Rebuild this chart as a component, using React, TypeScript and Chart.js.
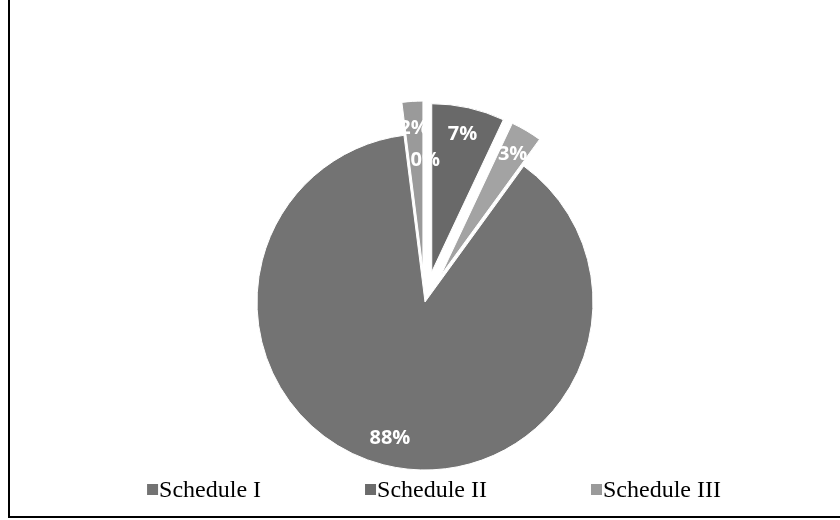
import React, { useEffect, useRef } from "react";
import { Chart, registerables } from "chart.js";

Chart.register(...registerables);

// Data (Excel pie, first slice rotated to 36°)
const labels = ["Schedule I", "Schedule II", "Schedule III", "Schedule IV", "Schedule V"];
const values = [88, 0, 2, 7, 3];
const sliceColors = ["#737373", "#6b6b6b", "#9a9a9a", "#696969", "#a3a3a3"];
const legendShown = 3;

// Styling
const explode = [0, 33, 33, 31, 31];
const labelShift: [number, number][] = [[0, 0], [22, 31], [0, 0], [0, 0], [0, 0]];

const explodePlugin = {
  id: "explodeSlices",
  afterDatasetUpdate(chart: any, args: any) {
    const meta = chart.getDatasetMeta(args.index);
    meta.data.forEach((arc: any, i: number) => {
      if (arc.__patched) return;
      const orig = arc.draw.bind(arc);
      arc.draw = (ctx: CanvasRenderingContext2D) => {
        const d = explode[i] || 0;
        const mid = (arc.startAngle + arc.endAngle) / 2;
        ctx.save();
        ctx.translate(Math.cos(mid) * d, Math.sin(mid) * d);
        orig(ctx);
        ctx.restore();
      };
      arc.__patched = true;
    });
  },
};

const valueLabelPlugin = {
  id: "valueLabels",
  afterDatasetsDraw(chart: any) {
    const ctx = chart.ctx as CanvasRenderingContext2D;
    const meta = chart.getDatasetMeta(0);
    const data = chart.data.datasets[0].data as number[];
    const total = data.reduce((a, b) => a + b, 0);
    ctx.save();
    ctx.fillStyle = "#ffffff";
    ctx.font = "bold 20px 'Open Sans', 'Liberation Sans', sans-serif";
    ctx.textAlign = "center";
    ctx.textBaseline = "middle";
    meta.data.forEach((arc: any, i: number) => {
      const mid = (arc.startAngle + arc.endAngle) / 2;
      const d = explode[i] || 0;
      const r = arc.outerRadius * 0.84;
      const x = arc.x + Math.cos(mid) * (d + r) + labelShift[i][0];
      const y = arc.y + Math.sin(mid) * (d + r) + labelShift[i][1];
      const pct = Math.round((data[i] / total) * 100);
      ctx.fillText(pct + "%", x, y);
    });
    ctx.restore();
  },
};

const legendPlugin = {
  id: "bottomLegend",
  afterDraw(chart: any) {
    const ctx = chart.ctx as CanvasRenderingContext2D;
    const ds = chart.data.datasets[0];
    const items = (chart.data.labels as string[]).slice(0, legendShown);
    ctx.save();
    ctx.font = "24px 'Liberation Serif', 'Times New Roman', serif";
    ctx.textBaseline = "middle";
    ctx.textAlign = "left";
    const box = 11;
    const gapText = 1;
    const gap = 104;
    const widths = items.map((t) => box + gapText + ctx.measureText(t).width);
    const total = widths.reduce((a, b) => a + b, 0) + gap * (items.length - 1);
    let x = 434 - total / 2;
    const y = 490;
    items.forEach((t, i) => {
      ctx.fillStyle = (ds.backgroundColor as string[])[i];
      ctx.fillRect(x, y - 6, box, box);
      ctx.fillStyle = "#000000";
      ctx.fillText(t, x + box + gapText, y + 1);
      x += widths[i] + gap;
    });
    ctx.restore();
  },
};

export default function App() {
  const ref = useRef<HTMLCanvasElement>(null);
  useEffect(() => {
    if (!ref.current) return;
    const chart = new Chart(ref.current, {
      type: "pie",
      data: {
        labels,
        datasets: [
          {
            data: values,
            backgroundColor: sliceColors,
            borderColor: "#ffffff",
            borderWidth: 1,
            hoverOffset: 0,
            clip: false as any,
          },
        ],
      },
      options: {
        responsive: false,
        animation: false,
        rotation: 36,
        radius: 168,
        layout: { padding: { left: 10, right: 0, top: 84, bottom: 0 } },
        plugins: {
          legend: { display: false },
          tooltip: { enabled: false },
        },
        events: [],
      },
      plugins: [explodePlugin, valueLabelPlugin, legendPlugin],
    });
    return () => chart.destroy();
  }, []);
  return (
    <div style={{ position: "fixed", left: 0, top: 0, width: 840, height: 520, background: "#fff" }}>
      <canvas ref={ref} width={840} height={520} style={{ position: "absolute", left: 0, top: 0 }} />
      <div
        style={{
          position: "absolute",
          left: 8,
          top: 0,
          width: 832,
          height: 516,
          borderLeft: "2px solid #000",
          borderBottom: "2px solid #000",
          pointerEvents: "none",
        }}
      />
    </div>
  );
}
